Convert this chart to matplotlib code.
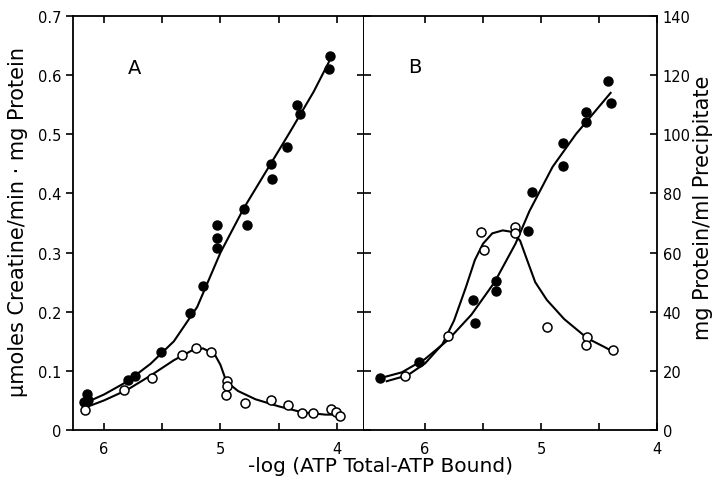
import matplotlib
matplotlib.use("Agg")
import matplotlib.pyplot as plt
from matplotlib.ticker import FixedLocator, FixedFormatter, NullFormatter

# panel A: activity (left axis), x = -log(ATP total - ATP bound)
a_fill_x = [6.17, 6.15, 6.14, 5.79, 5.73, 5.51, 5.26, 5.15, 5.03, 5.03, 5.03,
            4.80, 4.77, 4.57, 4.56, 4.43, 4.34, 4.32, 4.06, 4.07]
a_fill_y = [0.047, 0.061, 0.050, 0.085, 0.092, 0.132, 0.198, 0.243, 0.308, 0.324, 0.347,
            0.374, 0.347, 0.450, 0.425, 0.479, 0.549, 0.535, 0.633, 0.610]
a_open_x = [6.16, 5.83, 5.59, 5.33, 5.21, 5.08, 4.94, 4.94, 4.95, 4.79,
            4.57, 4.42, 4.30, 4.21, 4.05, 4.01, 3.97]
a_open_y = [0.034, 0.068, 0.088, 0.127, 0.138, 0.132, 0.083, 0.075, 0.059, 0.046,
            0.051, 0.042, 0.029, 0.029, 0.036, 0.030, 0.024]

# hand-drawn curves
a_fill_cx = [6.17, 6.0, 5.8, 5.6, 5.4, 5.2, 5.0, 4.8, 4.6, 4.4, 4.2, 4.07]
a_fill_cy = [0.045, 0.060, 0.082, 0.112, 0.150, 0.208, 0.300, 0.375, 0.440, 0.505, 0.572, 0.622]
a_open_cx = [6.16, 6.0, 5.8, 5.6, 5.4, 5.25, 5.15, 5.05, 5.0, 4.95, 4.85, 4.7, 4.5, 4.3, 4.1, 3.98]
a_open_cy = [0.038, 0.050, 0.068, 0.092, 0.118, 0.134, 0.138, 0.128, 0.110, 0.082, 0.066, 0.052, 0.040, 0.030, 0.026, 0.026]

# panel B: precipitate (right axis)
b_fill_x = [6.39, 6.05, 5.59, 5.57, 5.39, 5.39, 5.11, 5.08, 4.81, 4.81, 4.61, 4.61, 4.42, 4.40]
b_fill_y = [17.7, 22.9, 43.8, 36.2, 50.5, 47.1, 67.2, 80.4, 97.2, 89.3, 107.7, 104.0, 117.9, 110.7]
b_open_x = [6.17, 5.80, 5.52, 5.49, 5.22, 5.22, 4.95, 4.60, 4.61, 4.38]
b_open_y = [18.1, 31.9, 67.0, 61.0, 68.6, 66.7, 35.0, 31.4, 28.8, 26.9]

b_fill_cx = [6.39, 6.2, 6.0, 5.8, 5.6, 5.4, 5.22, 5.1, 4.9, 4.7, 4.55, 4.4]
b_fill_cy = [17.5, 19.5, 24.0, 30.5, 39.0, 50.0, 63.0, 74.0, 89.0, 100.0, 107.0, 114.0]
b_open_cx = [6.33, 6.15, 6.0, 5.85, 5.75, 5.65, 5.57, 5.5, 5.42, 5.33, 5.25, 5.18, 5.12,
             5.05, 4.95, 4.8, 4.6, 4.45, 4.38]
b_open_cy = [16.5, 18.5, 22.5, 29.0, 37.0, 48.0, 57.5, 63.0, 66.5, 67.5, 67.0, 64.0, 57.5,
             50.0, 44.0, 37.5, 31.0, 28.0, 26.5]

x_ticks = [6, 5, 4]
x_minor = [5.5, 4.5]
a_yticks = [0, 0.1, 0.2, 0.3, 0.4, 0.5, 0.6, 0.7]
a_ylabels = ['0', '0.1', '0.2', '0.3', '0.4', '0.5', '0.6', '0.7']
b_yticks = [0, 20, 40, 60, 80, 100, 120, 140]

plt.rcParams['font.family'] = ['DejaVu Sans']
W, H = 722, 485
fig = plt.figure(figsize=(W / 100, H / 100), dpi=100)

left, right, top, bottom, mid = 73, 657, 17, 431, 364
axA = fig.add_axes([left / W, (H - bottom) / H, (mid - left) / W, (bottom - top) / H])
axB = fig.add_axes([mid / W, (H - bottom) / H, (right - mid) / W, (bottom - top) / H])

lw = 1.5
ms = 6.5

axA.plot(a_fill_cx, a_fill_cy, 'k-', lw=lw)
axA.plot(a_open_cx, a_open_cy, 'k-', lw=lw)
axA.plot(a_fill_x, a_fill_y, 'o', color='black', ms=ms, zorder=3)
axA.plot(a_open_x, a_open_y, 'o', mfc='white', mec='black', mew=1.1, ms=ms, zorder=3)

axB.plot(b_fill_cx, b_fill_cy, 'k-', lw=lw)
axB.plot(b_open_cx, b_open_cy, 'k-', lw=lw)
axB.plot(b_fill_x, b_fill_y, 'o', color='black', ms=ms, zorder=3)
axB.plot(b_open_x, b_open_y, 'o', mfc='white', mec='black', mew=1.1, ms=ms, zorder=3)

axA.set_xlim(6.266, 3.768)
axB.set_xlim(6.526, 4.0)
axA.set_ylim(0, 0.7)
axB.set_ylim(0, 140)

for ax in (axA, axB):
    ax.xaxis.set_major_locator(FixedLocator(x_ticks))
    ax.xaxis.set_minor_locator(FixedLocator(x_minor))
    ax.xaxis.set_major_formatter(FixedFormatter([str(v) for v in x_ticks]))
    ax.tick_params(axis='x', which='both', direction='in', top=True, bottom=True,
                   length=5, width=1.2, labelsize=10.5, pad=8)
    for s in ax.spines.values():
        s.set_linewidth(1.3)

axA.yaxis.set_major_locator(FixedLocator(a_yticks))
axA.yaxis.set_major_formatter(FixedFormatter(a_ylabels))
axA.tick_params(axis='y', direction='out', left=True, right=False,
                length=5, width=1.2, labelsize=10.5)
# divider ticks on panel A side
secA = axA.secondary_yaxis('right')
secA.set_yticks(a_yticks[1:-1])
secA.yaxis.set_major_formatter(NullFormatter())
secA.tick_params(direction='in', length=5, width=1.2)
secA.spines['right'].set_linewidth(1.3)

axB.yaxis.set_major_locator(FixedLocator(b_yticks))
axB.tick_params(axis='y', direction='in', left=True, right=True,
                labelleft=False, labelright=True, length=5, width=1.2,
                labelsize=10.5, pad=4)
axB.spines['left'].set_visible(False)

axA.text(0.21, 0.875, 'A', transform=axA.transAxes, fontsize=14, ha='center', va='center')
axB.text(0.175, 0.878, 'B', transform=axB.transAxes, fontsize=14, ha='center', va='center')

fig.text(18 / W, 1 - 222 / H, 'µmoles Creatine/min · mg Protein', rotation=90,
         ha='center', va='center', fontsize=15)
fig.text(703 / W, 1 - 208 / H, 'mg Protein/ml Precipitate', rotation=90,
         ha='center', va='center', fontsize=15)
fig.text(380 / W, 1 - 467 / H, '-log (ATP Total-ATP Bound)',
         ha='center', va='center', fontsize=14.5)

fig.savefig('out.png', dpi=100)
